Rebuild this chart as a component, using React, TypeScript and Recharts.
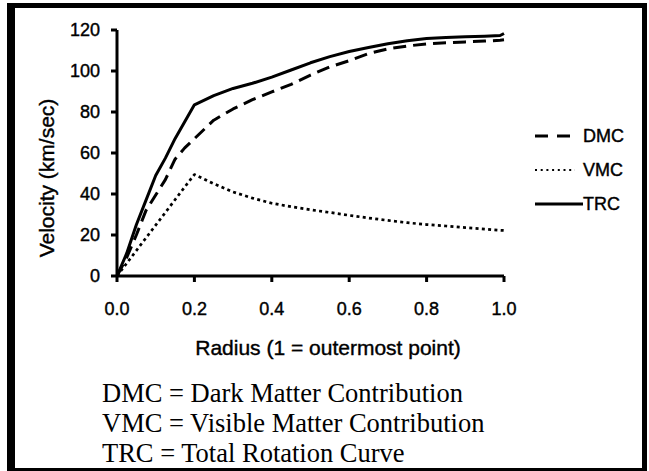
import React from "react";
import { LineChart, Line, XAxis, YAxis, Legend } from "recharts";

const radius = [0, 0.025, 0.05, 0.075, 0.1, 0.125, 0.15, 0.175, 0.2, 0.25, 0.3, 0.35, 0.4, 0.45, 0.5, 0.55, 0.6, 0.65, 0.7, 0.75, 0.8, 0.85, 0.9, 0.95, 0.99, 1.0];
const dmcValues = [0, 9, 20, 32, 39.5, 47, 57, 62.5, 67, 76, 81.5, 86, 89.8, 93.5, 98, 102, 105, 108.5, 110.8, 112.2, 113.2, 113.8, 114.2, 114.6, 115, 115.2];
const vmcValues = [0, 6.2, 12.4, 18.6, 24.8, 31, 37.2, 43.4, 49.5, 45, 41, 38, 35.5, 33.8, 32.3, 31, 29.6, 28.3, 27.1, 26, 25.1, 24.4, 23.6, 22.9, 22.3, 22.2];
const trcValues = [0, 11, 25, 37, 49, 57.5, 67, 75.3, 83.5, 88, 91.5, 94, 97, 100.5, 104, 107, 109.5, 111.5, 113.3, 114.8, 115.8, 116.3, 116.7, 117, 117.3, 118.3];

const xTicks = [0, 0.2, 0.4, 0.6, 0.8, 1.0];
const yTicks = [0, 20, 40, 60, 80, 100, 120];

const seriesNames = ["DMC", "VMC", "TRC"];
const captionLines = [
  "DMC = Dark Matter Contribution",
  "VMC = Visible Matter Contribution",
  "TRC = Total Rotation Curve",
];
const xTitle = "Radius (1 = outermost point)";
const yTitle = "Velocity (km/sec)";

const data = radius.map((r, i) => ({
  r,
  DMC: dmcValues[i],
  VMC: vmcValues[i],
  TRC: trcValues[i],
}));

const SANS = "'Liberation Sans', Arial, Helvetica, sans-serif";
const SERIF = "'Liberation Serif', 'Times New Roman', serif";

const lineStyle: Record<string, { dash?: string; sw: number }> = {
  DMC: { dash: "13 7", sw: 3 },
  VMC: { dash: "3 3.3", sw: 2.7 },
  TRC: { dash: undefined, sw: 3 },
};

const legendIcon: Record<string, { dash?: string; len: number; sw: number }> = {
  DMC: { dash: "13 9", len: 35, sw: 3 },
  VMC: { dash: "2 3.7", len: 40, sw: 2.2 },
  TRC: { dash: undefined, len: 48, sw: 3 },
};

const renderLegend = (props: any) => {
  const payload = [...(props.payload || [])].sort(
    (a: any, b: any) => seriesNames.indexOf(a.value) - seriesNames.indexOf(b.value)
  );
  return (
    <div>
      {payload.map((p: any) => {
        const st = legendIcon[p.value] || legendIcon.TRC;
        return (
          <div key={p.value} style={{ height: 34, display: "flex", alignItems: "center" }}>
            <svg width={48} height={34} style={{ display: "block" }}>
              <line x1={0} x2={st.len} y1={17} y2={17} stroke="#000" strokeWidth={st.sw} strokeDasharray={st.dash} />
            </svg>
            <span
              style={{
                fontSize: 18,
                fontFamily: SANS,
                color: "#000",
                lineHeight: "34px",
                WebkitTextStroke: "0.4px #000",
              }}
            >
              {p.value}
            </span>
          </div>
        );
      })}
    </div>
  );
};

const tickStyle = { fill: "#000", fontSize: 18, fontFamily: SANS, stroke: "#000", strokeWidth: 0.4 };

export default function App() {
  return (
    <div style={{ position: "absolute", left: 0, top: 0, width: 649, height: 471, background: "#fff", overflow: "hidden" }}>
      <div
        style={{
          position: "absolute",
          left: 7,
          top: 3,
          width: 640,
          height: 469,
          boxSizing: "border-box",
          borderLeft: "8px solid #000",
          borderTop: "5px solid #000",
          borderRight: "5px solid #000",
          borderBottom: "4px solid #000",
        }}
      />
      <div style={{ position: "absolute", left: 0, top: 0 }}>
        <LineChart width={649} height={471} data={data} margin={{ top: 30, right: 145, bottom: 155, left: 57 }}>
          <XAxis
            type="number"
            dataKey="r"
            domain={[0, 1]}
            ticks={xTicks}
            interval={0}
            tickFormatter={(v: number) => v.toFixed(1)}
            axisLine={{ stroke: "#000", strokeWidth: 3 }}
            tickLine={{ stroke: "#000", strokeWidth: 3 }}
            tickSize={6}
            tickMargin={20}
            tick={tickStyle}
            height={40}
          />
          <YAxis
            type="number"
            domain={[0, 120]}
            ticks={yTicks}
            interval={0}
            axisLine={{ stroke: "#000", strokeWidth: 3 }}
            tickLine={{ stroke: "#000", strokeWidth: 3 }}
            tickSize={6}
            tickMargin={11}
            tick={tickStyle}
            width={60}
          />
          <Legend
            layout="vertical"
            align="center"
            verticalAlign="middle"
            content={renderLegend}
            wrapperStyle={{ left: 535, top: 119, width: 110 }}
          />
          {seriesNames.map((name) => (
            <Line
              key={name}
              type="linear"
              dataKey={name}
              stroke="#000"
              strokeWidth={lineStyle[name].sw}
              strokeDasharray={lineStyle[name].dash}
              strokeLinejoin="round"
              dot={false}
              activeDot={false}
              isAnimationActive={false}
            />
          ))}
        </LineChart>
      </div>
      <svg width={649} height={471} style={{ position: "absolute", left: 0, top: 0, pointerEvents: "none" }}>
        <text x={328} y={355} textAnchor="middle" fontSize={21} fontFamily={SANS} fill="#000" stroke="#000" strokeWidth={0.4}>
          {xTitle}
        </text>
        <text
          transform="translate(54,178) rotate(-90)"
          textAnchor="middle"
          fontSize={21}
          fontFamily={SANS}
          fill="#000"
          stroke="#000"
          strokeWidth={0.4}
        >
          {yTitle}
        </text>
        {captionLines.map((t, i) => (
          <text key={t} x={102} y={402 + i * 30} fontSize={26.5} fontFamily={SERIF} fill="#000">
            {t}
          </text>
        ))}
      </svg>
    </div>
  );
}
